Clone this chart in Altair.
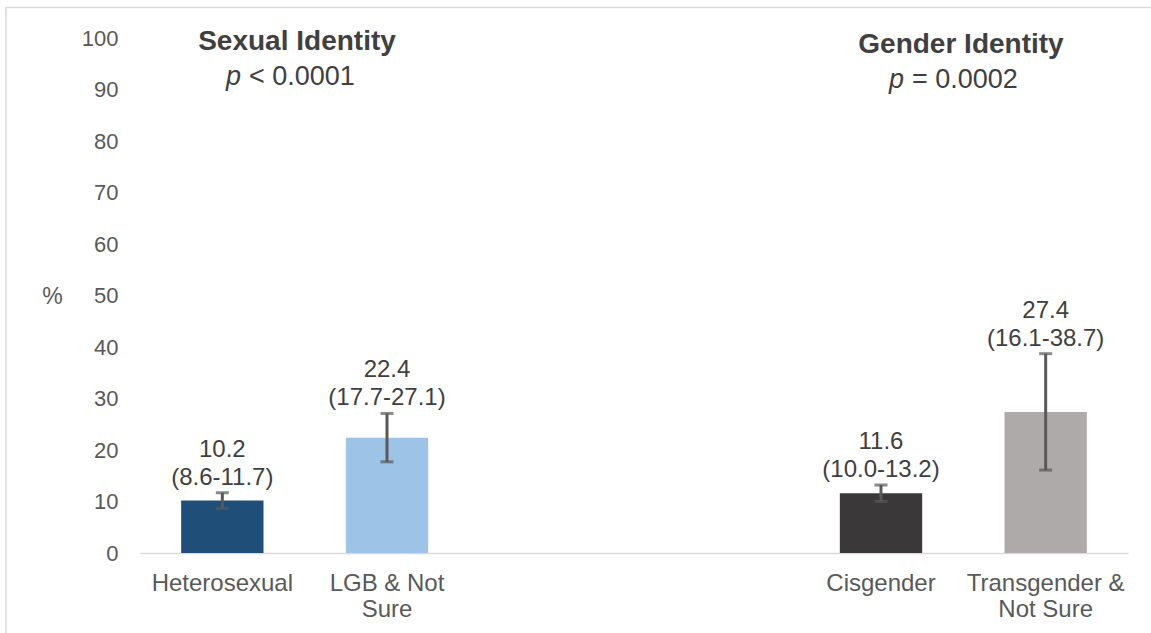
import altair as alt
import pandas as pd

# ---- data ----
categories = ["Heterosexual", "LGB & Not Sure", "Cisgender", "Transgender & Not Sure"]
label_lines = [["Heterosexual"], ["LGB & Not", "Sure"], ["Cisgender"], ["Transgender &", "Not Sure"]]
values = [10.2, 22.4, 11.6, 27.4]
lower = [8.6, 17.7, 10.0, 16.1]
upper = [11.7, 27.1, 13.2, 38.7]
bar_colors = ["#1f4e79", "#9dc3e6", "#3a3838", "#aeaaaa"]
x_domain = ["Heterosexual", "LGB & Not Sure", "_gap1", "_gap2", "Cisgender", "Transgender & Not Sure"]
y_ticks = [0, 10, 20, 30, 40, 50, 60, 70, 80, 90, 100]

group_titles = ["Sexual Identity", "Gender Identity"]
group_p = ["< 0.0001", "= 0.0002"]

FONT = "Liberation Sans"
TICK_COLOR = "#595959"
TEXT_COLOR = "#404040"

df = pd.DataFrame({
    "cat": categories,
    "value": values,
    "lower": lower,
    "upper": upper,
    "val_label": [f"{v:.1f}" for v in values],
    "ci_label": [f"({l:.1f}-{u:.1f})" for l, u in zip(lower, upper)],
})

# label expression for multi-line category labels
parts = []
for c, lines in zip(categories, label_lines):
    arr = "[" + ",".join("'" + s + "'" for s in lines) + "]"
    parts.append(f"datum.value == '{c}' ? {arr} : ")
label_expr = "".join(parts) + "''"

x_enc = alt.X(
    "cat:N",
    scale=alt.Scale(domain=x_domain, paddingInner=0.5, paddingOuter=0.25),
    axis=alt.Axis(
        title=None, labelExpr=label_expr, labelAngle=0, ticks=False, tickSize=0,
        labelPadding=18, labelFontSize=24, labelColor=TICK_COLOR, labelFont=FONT,
        labelLineHeight=26, labelBaseline="top",
        domainColor="#d9d9d9", domainWidth=1.5, grid=False,
    ),
)
y_scale = alt.Scale(domain=[0, 100], nice=False)

base = alt.Chart(df)

frame = alt.Chart(pd.DataFrame({"a": [0]})).mark_rect(
    filled=False, stroke="#d9d9d9", strokeWidth=1.5
).encode(
    x=alt.value(-134), x2=alt.value(1300), y=alt.value(-30.5), y2=alt.value(800)
)

bars = base.mark_bar().encode(
    x=x_enc,
    y=alt.Y(
        "value:Q", scale=y_scale,
        axis=alt.Axis(
            values=y_ticks, grid=False, domain=False, ticks=False, tickSize=0,
            labelPadding=22, labelFontSize=22, labelColor=TICK_COLOR, labelFont=FONT,
            title="%", titleAngle=0, titleX=-88, titleY=258, titleAlign="center",
            titleBaseline="middle", titleFontSize=23, titleFontWeight="normal",
            titleColor=TICK_COLOR, titleFont=FONT,
        ),
    ),
    color=alt.Color("cat:N", scale=alt.Scale(domain=categories, range=bar_colors), legend=None),
)

whisk = base.mark_rule(color=TICK_COLOR, strokeWidth=3).encode(
    x="cat:N", y=alt.Y("lower:Q", scale=y_scale), y2="upper:Q"
)
cap_lo = base.mark_tick(color=TICK_COLOR, thickness=3, size=13, orient="horizontal").encode(
    x="cat:N", y=alt.Y("lower:Q", scale=y_scale)
)
cap_hi = base.mark_tick(color=TICK_COLOR, thickness=3, size=13, orient="horizontal").encode(
    x="cat:N", y=alt.Y("upper:Q", scale=y_scale)
)

lbl_ci = base.mark_text(fontSize=24, font=FONT, color=TEXT_COLOR, baseline="middle", dy=-15).encode(
    x="cat:N", y=alt.Y("upper:Q", scale=y_scale), text="ci_label:N"
)
lbl_val = base.mark_text(fontSize=24, font=FONT, color=TEXT_COLOR, baseline="middle", dy=-43).encode(
    x="cat:N", y=alt.Y("upper:Q", scale=y_scale), text="val_label:N"
)

hdr_df = pd.DataFrame({
    "title": group_titles,
    "p": group_p,
    "cx": [157, 821],
    "px": [101, 764],
    "ty": [4, 7],
    "pty": [39, 42],
})
hdr_title = alt.Chart(hdr_df).mark_text(
    fontSize=28, fontWeight="bold", font=FONT, color=TEXT_COLOR, baseline="middle", align="center"
).encode(x=alt.X("cx:Q", scale=None), y=alt.Y("ty:Q", scale=None), text="title:N")
hdr_pi = alt.Chart(hdr_df).mark_text(
    fontSize=27, fontStyle="italic", font=FONT, color=TEXT_COLOR, baseline="middle", align="right", text="p"
).encode(x=alt.X("px:Q", scale=None), y=alt.Y("pty:Q", scale=None))
hdr_prest = alt.Chart(hdr_df).mark_text(
    fontSize=27, font=FONT, color=TEXT_COLOR, baseline="middle", align="left", dx=8
).encode(x=alt.X("px:Q", scale=None), y=alt.Y("pty:Q", scale=None), text="p:N")

chart = alt.layer(
    frame, bars, whisk, cap_lo, cap_hi, lbl_ci, lbl_val, hdr_title, hdr_pi, hdr_prest
).properties(
    width=988, height=515,
    padding={"left": 140, "top": 38, "right": 23, "bottom": 80},
    autosize="none",
    background="white",
).configure_view(stroke=None)

chart.save("out.html", embed_options={"renderer": "svg", "actions": False})
